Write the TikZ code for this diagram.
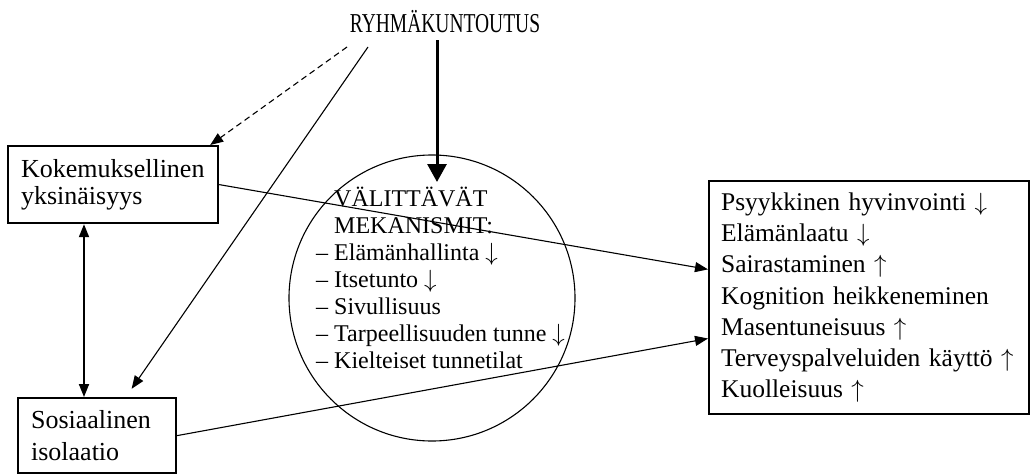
\documentclass[tikz,border=0pt]{standalone}
\usepackage{fontspec}
\setmainfont{Liberation Serif}
\usetikzlibrary{arrows.meta,calc,positioning}

\begin{document}
\begin{tikzpicture}[x=1pt,y=-1pt,
  box/.style={draw, line width=2.2pt, anchor=north west, align=left, inner xsep=13pt, inner ysep=0pt},
  linkarrow/.style={line width=1.1pt, -{Triangle[length=13pt,width=10pt]}}]
  \useasboundingbox (0,0) rectangle (1031,474);
  % Intervention at the top
  \node[anchor=base, inner sep=0pt, font=\fontsize{19.5}{24}\selectfont] (title) at (445,32) {\scalebox{1}[1.4]{RYHMÄKUNTOUTUS}};
  \coordinate (dstart) at (347,47);
  \coordinate (sstart) at (368,47);
  \coordinate (tip) at (437,182);
  % Loneliness and isolation
  \node[box, minimum width=210pt, minimum height=77pt, text width=184pt, font=\fontsize{26}{27}\selectfont] (lone) at (7,145) {Kokemuksellinen\\yksinäisyys};
  \node[box, minimum width=158pt, minimum height=75pt, text width=132pt, font=\fontsize{26}{32}\selectfont] (iso) at (17,397) {Sosiaalinen\\isolaatio};
  \coordinate (lonefoot) at ($(lone.south west)+(77,0)$);
  % Mediating mechanisms
  \coordinate (mech) at (432,298);
  \draw[line width=1.1pt] (mech) circle[radius=143];
  \node[anchor=north west, align=left, inner sep=0pt, font=\fontsize{24}{27}\selectfont] (mechtext) at (316,187)
    {\phantom{– }VÄLITTÄVÄT\\\phantom{– }MEKANISMIT:\\– Elämänhallinta $\downarrow$\\– Itsetunto $\downarrow$\\– Sivullisuus\\– Tarpeellisuuden tunne $\downarrow$\\– Kielteiset tunnetilat};
  % Outcomes
  \node[box, minimum width=320pt, minimum height=233pt, text width=296pt, inner xsep=12pt, font=\fontsize{25.5}{31.3}\selectfont] (outcome) at (708,180)
    {Psyykkinen hyvinvointi $\downarrow$\\Elämänlaatu $\downarrow$\\Sairastaminen $\uparrow$\\Kognition heikkeneminen\\Masentuneisuus $\uparrow$\\Terveyspalveluiden käyttö $\uparrow$\\Kuolleisuus $\uparrow$};
  % Connectors
  \draw[line width=3pt, shorten <=8pt, -{Triangle[length=18pt,width=19pt]}] (title.south -| tip) -- (tip);
  \draw[linkarrow, dash pattern=on 6pt off 4pt] (dstart) -- ([xshift=-9pt]lone.north east);
  \draw[linkarrow, shorten >=10pt] (sstart) -- ($(iso.north west)!0.68!(iso.north east)$);
  \draw[line width=1.8pt, {Triangle[length=13pt,width=10pt]}-{Triangle[length=13pt,width=10pt]}] (lonefoot) -- (lonefoot |- iso.north);
  \draw[linkarrow] (lone.east) -- ($(outcome.north west)!0.38!(outcome.south west)$);
  \draw[linkarrow] (iso.east) -- ($(outcome.north west)!0.674!(outcome.south west)$);
\end{tikzpicture}
\end{document}
